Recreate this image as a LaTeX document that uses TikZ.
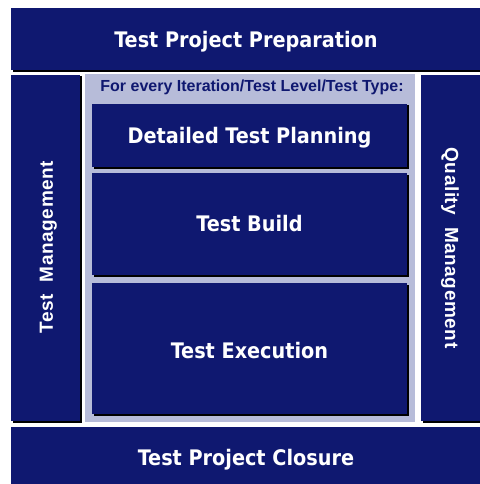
\documentclass[tikz,border=0pt]{standalone}
\usepackage{fontspec}
\setmainfont{DejaVu Sans Condensed}
\newfontfamily\headfont{Liberation Sans}
\newfontfamily\sidefont[LetterSpace=3]{Liberation Sans}
\usepackage{xcolor}
\usetikzlibrary{shadows}
\definecolor{navy}{HTML}{0F1870}
\definecolor{lavender}{HTML}{B7BCD9}

\begin{document}
\begin{tikzpicture}[x=1pt, y=-1pt]
    \tikzset{
        phase/.style={rectangle, fill=navy, draw=none, inner sep=0pt,
            text=white, font=\bfseries\fontsize{21.4}{26}\selectfont,
            text height=15.6pt, text depth=0pt,
            drop shadow={shadow xshift=1.5pt, shadow yshift=-1.5pt, fill=black, opacity=1}},
        sidelabel/.style={text=white, inner sep=0pt, font=\sidefont\bfseries\fontsize{19}{22}\selectfont,
            text height=13.7pt, text depth=0pt},
        panel/.style={rectangle, fill=lavender, draw=none, inner sep=0pt}
    }
    \useasboundingbox (0,0) rectangle (479,484);

    % Nodes
    \node[phase, minimum width=470pt, minimum height=62pt] (prep) at (246,39.5) {Test Project Preparation};
    \node[phase, minimum width=69pt, minimum height=346pt] (mgmt) at (45.5,248) {};
    \node[sidelabel, rotate=90] (mgmtlabel) at (46,247) {Test\ \ Management};
    \node[panel, minimum width=330pt, minimum height=348pt] (iter) at (250,248) {};
    \node[anchor=north, text=navy, font=\headfont\bfseries\fontsize{16}{18}\selectfont] (iterlabel) at (252,76) {For every Iteration/Test Level/Test Type:};
    \node[phase, minimum width=315pt, minimum height=63pt] (plan) at (249.5,135.5) {Detailed Test Planning};
    \node[phase, minimum width=315pt, minimum height=102pt] (build) at (249.5,224) {Test Build};
    \node[phase, minimum width=315pt, minimum height=131pt] (exec) at (249.5,348.5) {\raisebox{-2pt}{Test Execution}};
    \node[phase, minimum width=60pt, minimum height=346pt] (qual) at (451,248) {};
    \node[sidelabel, rotate=-90] (quallabel) at (452,248) {Quality\ \ Management};
    \node[phase, minimum width=470pt, minimum height=62pt] (close) at (246,458) {Test Project Closure};
\end{tikzpicture}
\end{document}
